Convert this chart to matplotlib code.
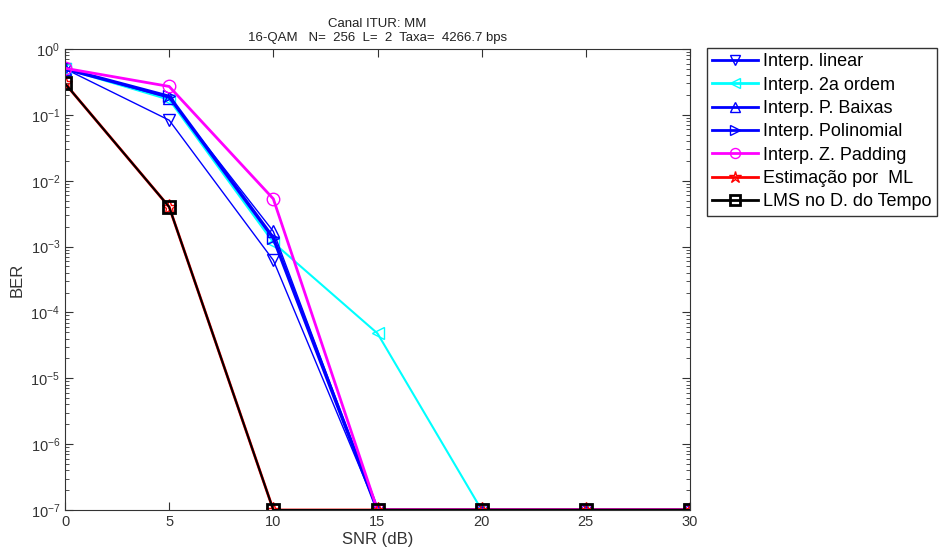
import matplotlib
matplotlib.use('Agg')
import matplotlib.pyplot as plt
import numpy as np

plt.rcParams['font.family'] = ['Liberation Sans', 'DejaVu Sans']

snr = [0, 5, 10, 15, 20, 25, 30]

# BER curves (zero BER is drawn at the 1e-7 floor)
ber_linear = [0.50, 0.083, 6.2e-4, 1e-7, 1e-7, 1e-7, 1e-7]
ber_ordem2 = [0.50, 0.17, 1.15e-3, 4.8e-5, 1e-7, 1e-7, 1e-7]
ber_baixas = [0.50, 0.18, 1.7e-3, 1e-7, 1e-7, 1e-7, 1e-7]
ber_polin = [0.50, 0.19, 1.35e-3, 1e-7, 1e-7, 1e-7, 1e-7]
ber_zpad = [0.51, 0.27, 5.3e-3, 1e-7, 1e-7, 1e-7, 1e-7]
ber_ml = [0.30, 4.0e-3, 1e-7, 1e-7, 1e-7, 1e-7, 1e-7]
ber_lms = [0.30, 4.0e-3, 1e-7, 1e-7, 1e-7, 1e-7, 1e-7]

labels = ['Interp. linear', 'Interp. 2a ordem', 'Interp. P. Baixas',
          'Interp. Polinomial', 'Interp. Z. Padding', 'Estimação por  ML',
          'LMS no D. do Tempo']

fig = plt.figure(figsize=(9.4, 5.58), dpi=100)
ax = fig.add_axes([65/940, 1-510/558, 625/940, 461/558])

ax.semilogy(snr, ber_linear, color='#0000ff', marker='v', mfc='none', ms=9, lw=1, label=labels[0])
ax.semilogy(snr, ber_ordem2, color='#00ffff', marker='<', mfc='none', ms=9, lw=1.5, label=labels[1])
ax.semilogy(snr, ber_baixas, color='#0000ff', marker='^', mfc='none', ms=9, lw=1, label=labels[2])
ax.semilogy(snr, ber_polin, color='#0000ff', marker='>', mfc='none', ms=9, lw=2.5, label=labels[3])
ax.semilogy(snr, ber_zpad, color='#ff00ff', marker='o', mfc='none', ms=9, lw=2, label=labels[4])
ax.semilogy(snr, ber_ml, color='#ff0000', marker='*', mfc='none', ms=11, lw=2, label=labels[5])
ax.semilogy(snr, ber_lms, color='black', marker='s', mfc='none', ms=9, mew=2, lw=1.5, label=labels[6])

ax.set_xlim(0, 30)
ax.set_ylim(1e-7, 1)
ax.set_xticks([0, 5, 10, 15, 20, 25, 30])
ax.set_yticks([10.0**k for k in range(-7, 1)])
ax.tick_params(which='both', direction='in', top=True, right=True, labelsize=10.5, colors='#333333')
ax.tick_params(which='major', length=6)
ax.tick_params(which='minor', length=3)
for s in ax.spines.values():
    s.set_color('#333333')

ax.set_xlabel('SNR (dB)', fontsize=12, color='#333333', labelpad=2)
ax.set_ylabel('BER', fontsize=12, color='#333333')
ax.set_title('Canal ITUR: MM\n16-QAM   N=  256  L=  2  Taxa=  4266.7 bps',
             fontsize=9.5, color='#222222', pad=6)

leg = ax.legend(loc='upper left', bbox_to_anchor=(707/940, 1-48/558),
                bbox_transform=fig.transFigure, borderaxespad=0, fancybox=False,
                edgecolor='#333333', framealpha=1, fontsize=13, handlelength=2.5,
                labelspacing=0.35, handletextpad=0.3, borderpad=0.3, markerscale=0.8)
leg.get_frame().set_linewidth(1)
for line in leg.get_lines():
    line.set_linewidth(2)

fig.savefig('out.png', dpi=100)
